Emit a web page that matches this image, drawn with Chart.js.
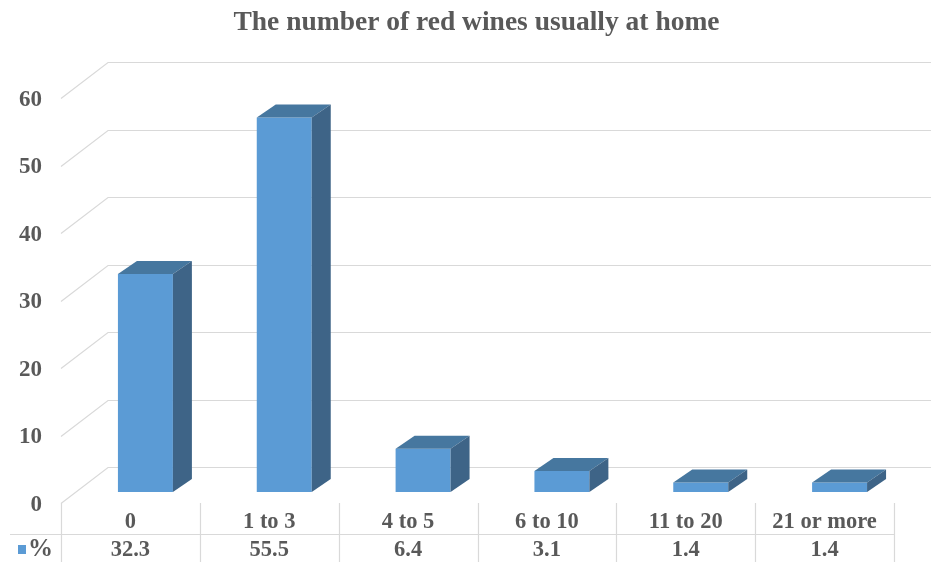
<!DOCTYPE html>
<html>
<head>
<meta charset="utf-8">
<script src="https://cdn.jsdelivr.net/npm/chart.js@4/dist/chart.umd.min.js"></script>
<style>
  html, body { margin: 0; padding: 0; background: #fff; }
  #wrap { width: 931px; height: 562px; }
</style>
</head>
<body>
<div id="wrap"><canvas id="wineChart"></canvas></div>
<script>
const categories = ["0", "1 to 3", "4 to 5", "6 to 10", "11 to 20", "21 or more"];
const percentValues = [32.3, 55.5, 6.4, 3.1, 1.4, 1.4];
const yTickValues = [0, 10, 20, 30, 40, 50, 60];
const seriesLabel = "%";

const TEXT = "#595959";
const GRID = "#d9d9d9";
const FONT = "'Liberation Serif', 'Times New Roman', serif";
const FRONT = "#5b9bd5";
const TOP = "#46779f";
const SIDE = "#3e6487";

// fake perspective: floor/side wall run from the front edge back to the wall
const FRONT_DX = -15, FRONT_DY = 11;
const BACK_DX = 32, BACK_DY = -25;
const BAR_DX = 19, BAR_DY = -13;

const box3d = {
    id: "box3d",
    beforeDatasetsDraw(chart) {
        const { ctx, chartArea, scales: { y } } = chart;
        ctx.save();
        ctx.strokeStyle = GRID;
        ctx.lineWidth = 1.2;
        y.ticks.forEach(t => {
            const py = Math.round(y.getPixelForValue(t.value)) + 0.5;
            ctx.beginPath();
            ctx.moveTo(chartArea.left + FRONT_DX, py + FRONT_DY);
            ctx.lineTo(chartArea.left + BACK_DX, py + BACK_DY);
            ctx.lineTo(chart.width, py + BACK_DY);
            ctx.stroke();
        });

        // value labels sit on the front edge, left of the side wall
        ctx.fillStyle = TEXT;
        ctx.font = "bold 23px " + FONT;
        ctx.textAlign = "right";
        ctx.textBaseline = "middle";
        y.ticks.forEach(t => {
            ctx.fillText(t.label, 42, y.getPixelForValue(t.value) + 13);
        });
        ctx.restore();
    },
    afterDatasetsDraw(chart) {
        const { ctx } = chart;
        const meta = chart.getDatasetMeta(0);
        ctx.save();
        meta.data.forEach(bar => {
            const { x, y, base, width } = bar.getProps(["x", "y", "base", "width"], true);
            const x0 = x - width / 2, x1 = x + width / 2;

            // top face
            ctx.fillStyle = TOP;
            ctx.beginPath();
            ctx.moveTo(x0, y);
            ctx.lineTo(x0 + BAR_DX, y + BAR_DY);
            ctx.lineTo(x1 + BAR_DX, y + BAR_DY);
            ctx.lineTo(x1, y);
            ctx.closePath();
            ctx.fill();

            // right side face
            ctx.fillStyle = SIDE;
            ctx.beginPath();
            ctx.moveTo(x1, y);
            ctx.lineTo(x1 + BAR_DX, y + BAR_DY);
            ctx.lineTo(x1 + BAR_DX, base + BAR_DY);
            ctx.lineTo(x1, base);
            ctx.closePath();
            ctx.fill();
        });
        ctx.restore();
    },
    afterDraw(chart) {
        // data table under the axis
        const { ctx, chartArea, scales: { x } } = chart;
        const colW = x.getPixelForValue(1) - x.getPixelForValue(0);
        const floorY = chartArea.bottom + FRONT_DY;
        const rowLine = chartArea.bottom + 42.5;
        const valueY = chart.height - 12;

        ctx.save();
        ctx.strokeStyle = GRID;
        ctx.lineWidth = 1.2;
        const lastEdge = x.getPixelForValue(categories.length - 1) + colW / 2 + FRONT_DX;
        ctx.beginPath();
        ctx.moveTo(10, rowLine);
        ctx.lineTo(lastEdge, rowLine);
        for (let i = 0; i <= categories.length; i++) {
            const ex = Math.round(x.getPixelForValue(i) - colW / 2 + FRONT_DX) + 0.5;
            ctx.moveTo(ex, floorY);
            ctx.lineTo(ex, chart.height);
        }
        ctx.stroke();

        ctx.fillStyle = TEXT;
        ctx.font = "bold 22.5px " + FONT;
        ctx.textAlign = "center";
        ctx.textBaseline = "middle";
        percentValues.forEach((v, i) => {
            ctx.fillText(v.toFixed(1), x.getPixelForValue(i) + FRONT_DX, valueY);
        });

        // series key
        ctx.fillStyle = FRONT;
        ctx.fillRect(18, valueY - 5, 8, 9);
        ctx.fillStyle = TEXT;
        ctx.font = "bold 25px " + FONT;
        ctx.textAlign = "left";
        ctx.fillText(seriesLabel, 28, valueY);
        ctx.restore();
    }
};

new Chart(document.getElementById("wineChart"), {
    type: "bar",
    data: {
        labels: categories,
        datasets: [{
            label: seriesLabel,
            data: percentValues,
            backgroundColor: FRONT,
            borderWidth: 0,
            barPercentage: 0.396,
            categoryPercentage: 1
        }]
    },
    options: {
        responsive: true,
        maintainAspectRatio: false,
        animation: false,
        layout: { padding: { left: 44, right: 22, top: 0, bottom: 0 } },
        plugins: {
            legend: { display: false },
            tooltip: { enabled: false },
            title: {
                display: true,
                text: "The number of red wines usually at home",
                color: TEXT,
                font: { family: FONT, size: 27.5, weight: "bold" },
                padding: { top: 6, bottom: 48 }
            }
        },
        scales: {
            x: {
                afterFit: s => { s.height = 70; },
                grid: { display: false, drawTicks: false },
                border: { display: false },
                ticks: {
                    padding: 17,
                    labelOffset: FRONT_DX,
                    maxRotation: 0,
                    autoSkip: false,
                    color: TEXT,
                    font: { family: FONT, size: 22.5, weight: "bold" }
                }
            },
            y: {
                min: 0,
                max: 60,
                afterBuildTicks: s => { s.ticks = yTickValues.map(v => ({ value: v })); },
                afterFit: s => { s.width = 32; },
                grid: { display: false, drawTicks: false },
                border: { display: false },
                ticks: { display: false }
            }
        }
    },
    plugins: [box3d]
});
</script>
</body>
</html>
